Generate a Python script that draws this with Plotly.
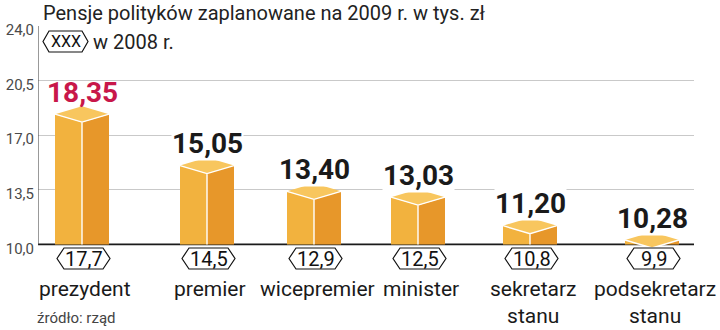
import plotly.graph_objects as go

# ---- data -------------------------------------------------------------
title_text = "Pensje polityków zaplanowane na 2009 r. w tys. zł"
legend_text = "w 2008 r."
legend_token = "XXX"
source_text = "źródło: rząd"

categories = ["prezydent", "premier", "wicepremier", "minister",
              "sekretarz<br>stanu", "podsekretarz<br>stanu"]
pay_2009 = [18.35, 15.05, 13.40, 13.03, 11.20, 10.28]
pay_2008 = [17.7, 14.5, 12.9, 12.5, 10.8, 9.9]
y_ticks = [10.0, 13.5, 17.0, 20.5, 24.0]
y_tick_labels = ["10,0", "13,5", "17,0", "20,5", "24,0"]
highlight_category = "prezydent"

# ---- layout constants ------------------------------------------------------
W, H = 720, 330
M = dict(l=38, r=26, t=26, b=70)
PLOT_W = W - M["l"] - M["r"]
PLOT_H = H - M["t"] - M["b"]
Y_MIN, Y_MAX = 9.0, 24.0
BASE = 10.0
PX_PER_UNIT = PLOT_H / (Y_MAX - Y_MIN)

# horizontal slot centres along the x axis (axis units are pixels of the plot area)
slot_centres = [44, 169, 276, 380, 492, 614]
HALF_W = 27          # half bar width
TOP_DEPTH = 8 / PX_PER_UNIT  # half height of the rhombus lid, in data units

FONT = "Roboto, Arial, sans-serif"
C_LEFT = "#F2B23E"
C_RIGHT = "#E7972A"
C_TOP = "#F8C65E"
C_HIGHLIGHT = "#C8174A"


def fmt(v, nd):
    return f"{v:.{nd}f}".replace(".", ",")


def paper_y(px):
    """Convert a vertical page pixel position into paper coordinates."""
    return (H - M["b"] - px) / PLOT_H


def paper_x(px):
    return (px - M["l"]) / PLOT_W


shapes = []

# baseline and left axis line
shapes.append(dict(type="line", xref="x", yref="y", x0=0, x1=PLOT_W, y0=BASE, y1=BASE,
                   line=dict(color="#1a1a1a", width=1.6), layer="above"))
shapes.append(dict(type="line", xref="x", yref="y", x0=0, x1=0, y0=BASE, y1=Y_MAX,
                   line=dict(color="#555555", width=1.2), layer="above"))

# 3-D columns
for cx, v in zip(slot_centres, pay_2009):
    lo = lambda y: max(y, BASE)
    left = (f"M{cx - HALF_W},{lo(v)} L{cx},{lo(v - TOP_DEPTH)} "
            f"L{cx},{BASE} L{cx - HALF_W},{BASE} Z")
    right = (f"M{cx},{lo(v - TOP_DEPTH)} L{cx + HALF_W},{lo(v)} "
             f"L{cx + HALF_W},{BASE} L{cx},{BASE} Z")
    lid = (f"M{cx - HALF_W},{v} L{cx},{v + TOP_DEPTH} L{cx + HALF_W},{v} "
           f"L{cx},{v - TOP_DEPTH} Z")
    shapes.append(dict(type="path", xref="x", yref="y", path=left,
                       fillcolor=C_LEFT, line=dict(width=0), layer="above"))
    shapes.append(dict(type="path", xref="x", yref="y", path=right,
                       fillcolor=C_RIGHT, line=dict(width=0), layer="above"))
    shapes.append(dict(type="path", xref="x", yref="y", path=lid,
                       fillcolor=C_TOP, line=dict(width=0), layer="above"))
    edge = f"M{cx - HALF_W},{v} L{cx},{v - TOP_DEPTH} L{cx + HALF_W},{v}"
    if v - TOP_DEPTH > BASE:
        edge += f" M{cx},{v - TOP_DEPTH} L{cx},{BASE}"
    shapes.append(dict(type="path", xref="x", yref="y", path=edge,
                       line=dict(color="white", width=1.4), layer="above"))


def hexagon(x0, x1, y_top_px, y_bot_px, inset, xref="x"):
    ym = (y_top_px + y_bot_px) / 2
    yt, yb, yc = paper_y(y_top_px), paper_y(y_bot_px), paper_y(ym)
    path = (f"M{x0},{yc} L{x0 + inset},{yt} L{x1 - inset},{yt} L{x1},{yc} "
            f"L{x1 - inset},{yb} L{x0 + inset},{yb} Z")
    return dict(type="path", xref=xref, yref="paper", path=path,
                fillcolor="white", line=dict(color="#111111", width=1.2), layer="above")


HEX_TOP, HEX_BOT = 248, 269
for cx in slot_centres:
    shapes.append(hexagon(cx - 26 + 1, cx + 27 + 1, HEX_TOP, HEX_BOT, 7))

# legend hexagon (page pixels converted to axis units)
shapes.append(hexagon(43 - M["l"], 88 - M["l"], 31, 52, 6))

annotations = []

# 2009 values above columns
for cat, cx, v in zip(categories, slot_centres, pay_2009):
    hl = cat == highlight_category
    annotations.append(dict(
        x=cx, y=v, xref="x", yref="y", text=f"<b>{fmt(v, 2)}</b>",
        showarrow=False, yanchor="middle", yshift=22,
        font=dict(family=FONT, size=28, color=C_HIGHLIGHT if hl else "#1a1a1a"),
        bgcolor=None if hl else "white", borderpad=0))

# 2008 values in hexagons
for cx, v in zip(slot_centres, pay_2008):
    annotations.append(dict(
        x=cx + 1.5, y=paper_y((HEX_TOP + HEX_BOT) / 2 + 0.5), xref="x", yref="paper",
        text=fmt(v, 1), showarrow=False, yanchor="middle",
        font=dict(family=FONT, size=20, color="#111111")))

# category labels
for cat, cx in zip(categories, slot_centres):
    annotations.append(dict(
        x=cx + 3, y=paper_y(275), xref="x", yref="paper", text=cat,
        showarrow=False, yanchor="top", align="center",
        font=dict(family=FONT, size=21, color="#1a1a1a")))

# title, legend and source
annotations.append(dict(x=paper_x(41), y=paper_y(13), xref="paper", yref="paper",
                        text=title_text, showarrow=False, xanchor="left", yanchor="middle",
                        font=dict(family=FONT, size=20, color="#222222")))
annotations.append(dict(x=paper_x(65.5), y=paper_y(41.5), xref="paper", yref="paper",
                        text=legend_token, showarrow=False, xanchor="center", yanchor="middle",
                        font=dict(family=FONT, size=16, color="#111111")))
annotations.append(dict(x=paper_x(91), y=paper_y(41.5), xref="paper", yref="paper",
                        text=legend_text, showarrow=False, xanchor="left", yanchor="middle",
                        font=dict(family=FONT, size=20, color="#222222")))
annotations.append(dict(x=paper_x(35), y=paper_y(318), xref="paper", yref="paper",
                        text=source_text, showarrow=False, xanchor="left", yanchor="middle",
                        font=dict(family=FONT, size=15, color="#444444")))

fig = go.Figure()
fig.add_trace(go.Scatter(x=slot_centres, y=pay_2009, mode="markers",
                         marker=dict(opacity=0), hoverinfo="skip", showlegend=False))

fig.update_layout(
    width=W, height=H, margin=M,
    paper_bgcolor="white", plot_bgcolor="white",
    shapes=shapes, annotations=annotations, showlegend=False,
    xaxis=dict(range=[0, PLOT_W], visible=False, fixedrange=True, automargin=False),
    yaxis=dict(range=[Y_MIN, Y_MAX], tickvals=y_ticks, ticktext=y_tick_labels,
               showgrid=True, gridcolor="#c9c9c9", gridwidth=1, zeroline=False,
               showline=False, ticks="", ticklabelshift=4, ticklabelstandoff=3,
               automargin=False,
               tickfont=dict(family=FONT, size=15, color="#4a4a4a"), fixedrange=True),
)

fig.write_html("out.html")
